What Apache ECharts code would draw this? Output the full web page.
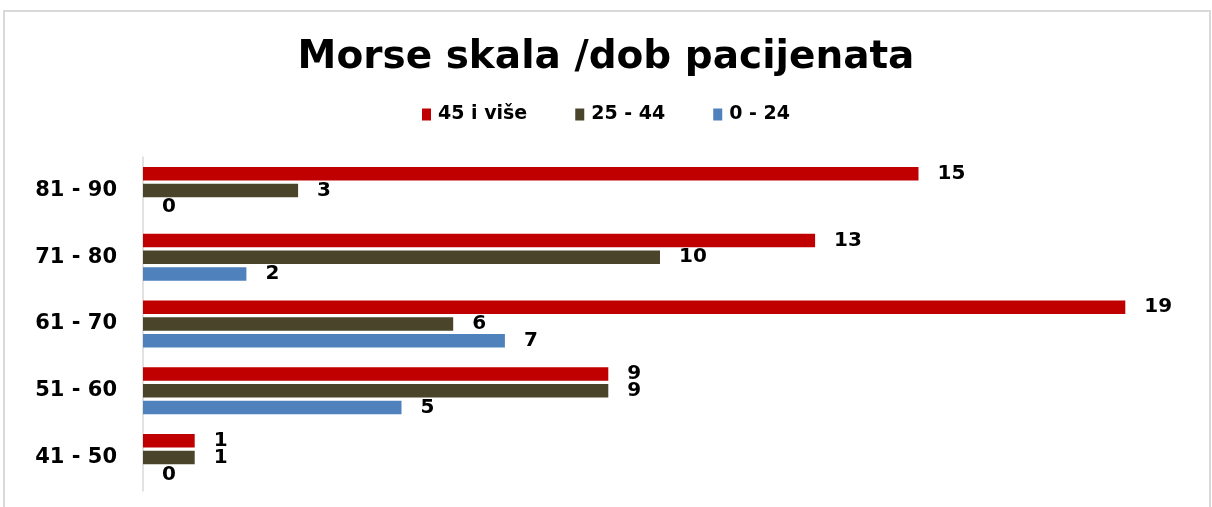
<!DOCTYPE html>
<html>
<head>
<meta charset="utf-8">
<title>Morse skala /dob pacijenata</title>
<script src="https://cdn.jsdelivr.net/npm/echarts@6/dist/echarts.min.js"></script>
<style>
	html, body { margin: 0; padding: 0; background: #fff; }
	#chart { width: 1212px; height: 507px; }
</style>
</head>
<body>
<div id="chart"></div>
<script>
// Age groups (bottom to top on the axis)
var categories = ['41 - 50', '51 - 60', '61 - 70', '71 - 80', '81 - 90'];

// Series values, one per age group
var seriesNames = ['45 i više', '25 - 44', '0 - 24'];
var over45 = [1, 9, 19, 13, 15];
var from25to44 = [1, 9, 6, 10, 3];
var upTo24 = [0, 5, 7, 2, 0];

var colors = ['#C00000', '#4A452A', '#4F81BD'];
var fontFamily = '"DejaVu Sans", Verdana, sans-serif';

var chart = echarts.init(document.getElementById('chart'));

function barSeries(name, data, color) {
	return {
		name: name,
		type: 'bar',
		data: data,
		barWidth: 13.5,
		barGap: '24%',
		itemStyle: { color: color },
		label: {
			show: true,
			position: 'right',
			distance: 19,
			color: '#000',
			fontFamily: fontFamily,
			fontWeight: 'bold',
			fontSize: 20
		}
	};
}

var option = {
	animation: false,
	title: {
		text: 'Morse skala /dob pacijenata',
		left: 'center',
		top: 33,
		textStyle: {
			fontFamily: fontFamily,
			fontWeight: 'bold',
			fontSize: 39,
			color: '#000'
		}
	},
	legend: {
		data: seriesNames,
		top: 100,
		left: 'center',
		itemWidth: 9,
		itemHeight: 12,
		itemGap: 48,
		icon: 'rect',
		textStyle: {
			fontFamily: fontFamily,
			fontWeight: 'bold',
			fontSize: 19,
			color: '#000',
			padding: [0, 0, 0, 2]
		}
	},
	grid: {
		left: 143,
		right: 35,
		top: 157,
		bottom: 16,
		containLabel: false
	},
	xAxis: {
		type: 'value',
		min: 0,
		max: 20,
		show: false
	},
	yAxis: {
		type: 'category',
		data: categories,
		axisLine: { show: true, lineStyle: { color: '#D9D9D9', width: 1.5 } },
		axisTick: { show: false },
		axisLabel: {
			margin: 26,
			color: '#000',
			fontFamily: fontFamily,
			fontWeight: 'bold',
			fontSize: 21
		}
	},
	series: [
		barSeries(seriesNames[0], over45, colors[0]),
		barSeries(seriesNames[1], from25to44, colors[1]),
		barSeries(seriesNames[2], upTo24, colors[2])
	],
	graphic: [{
		type: 'rect',
		shape: { x: 4, y: 11, width: 1206, height: 520 },
		style: { fill: 'none', stroke: '#D9D9D9', lineWidth: 2 },
		silent: true
	}]
};

chart.setOption(option);
</script>
</body>
</html>
